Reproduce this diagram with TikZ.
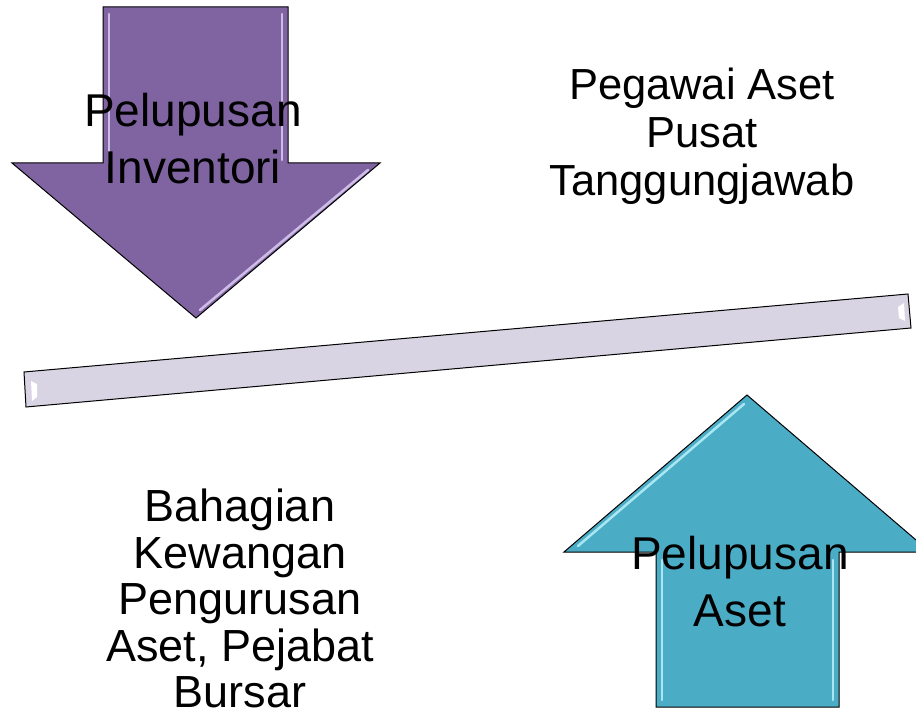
\documentclass[tikz,border=0pt]{standalone}
\usepackage{fontspec}
\setmainfont{Liberation Sans}
\definecolor{arrowpurple}{HTML}{8064A2}
\definecolor{purplelight}{HTML}{CDBDE6}
\definecolor{arrowteal}{HTML}{4BACC6}
\definecolor{teallight}{HTML}{A8E6F2}
\definecolor{barlilac}{HTML}{D9D4E3}
\tikzset{
  blocktext/.style={align=center, inner sep=0pt},
  outline/.style={draw=black, line width=1pt, line join=miter},
  bevel/.style={line width=2.5pt, line cap=round},
}
\begin{document}
\begin{tikzpicture}[x=1pt,y=-1pt]
\useasboundingbox (0,0) rectangle (916,714);
\clip (0,0) rectangle (916,714);
% down arrow
\filldraw[outline, fill=arrowpurple] (103,7) -- (288,7) -- (288,163) -- (380,163) -- (196,318) -- (12,163) -- (103,163) -- cycle;
\draw[bevel, purplelight] (109,14) -- (109,163);
\draw[bevel, purplelight] (282,14) -- (282,160);
\draw[bevel, purplelight] (368,170) -- (200,310);
% balance bar
\filldraw[outline, fill=barlilac] (24,372) -- (908,294) -- (911,328) -- (26,407) -- cycle;
\fill[white] (31,381) -- (37,384) -- (37,397) -- (32,401) -- cycle;
\fill[white] (904,303) -- (898,307) -- (899,318) -- (905,321) -- cycle;
% up arrow
\filldraw[outline, fill=arrowteal] (747,395) -- (930,552) -- (839,552) -- (839,707) -- (656,707) -- (656,552) -- (564,552) -- cycle;
\draw[bevel, teallight] (578,546) -- (744,404);
\draw[bevel, teallight] (662,560) -- (662,700);
\draw[bevel, teallight] (833,560) -- (833,700);
% texts
\node[blocktext, font=\fontsize{46}{57}\selectfont] (inventory) at (193,138.8) {Pelupusan\\Inventori};
\node[blocktext, font=\fontsize{43.5}{48}\selectfont] (central) at (702,135.8) {Pegawai Aset\\Pusat\\Tanggungjawab};
\node[blocktext, font=\fontsize{45}{46.5}\selectfont] (finance) at (240,598.6) {Bahagian\\Kewangan\\Pengurusan\\Aset, Pejabat\\Bursar};
\node[blocktext, font=\fontsize{46}{57}\selectfont] (asset) at (740,581.8) {Pelupusan\\Aset};
\end{tikzpicture}
\end{document}
